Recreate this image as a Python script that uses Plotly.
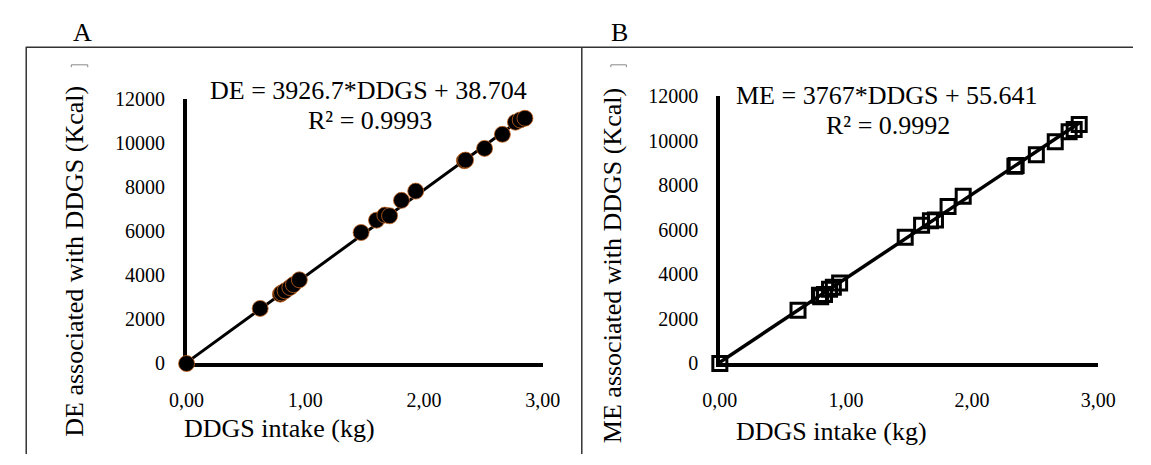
import plotly.graph_objects as go

# ---------------- data ----------------
ddgs_intake = [0.00, 0.62, 0.79, 0.80, 0.83, 0.87, 0.90, 0.95, 1.47, 1.60, 1.67,
               1.71, 1.81, 1.93, 2.34, 2.35, 2.51, 2.66, 2.77, 2.81, 2.85]
de_kcal = [0, 2500, 3150, 3200, 3300, 3450, 3580, 3800, 5950, 6510, 6740,
           6710, 7410, 7830, 9210, 9240, 9770, 10410, 10960, 11060, 11140]
me_kcal = [0, 2390, 3060, 3000, 3100, 3330, 3420, 3610, 5670, 6200, 6410,
           6440, 7050, 7510, 8850, 8880, 9370, 9950, 10400, 10500, 10730]

de_slope, de_intercept = 3926.7, 38.704
me_slope, me_intercept = 3767, 55.641
de_equation = "DE = 3926.7*DDGS + 38.704"
de_r2 = "R² = 0.9993"
me_equation = "ME = 3767*DDGS + 55.641"
me_r2 = "R² = 0.9992"

x_tickvals = [0, 1, 2, 3]
x_ticktext = ["0,00", "1,00", "2,00", "3,00"]
y_tickvals = [0, 2000, 4000, 6000, 8000, 10000, 12000]
y_ticktext = ["0", "2000", "4000", "6000", "8000", "10000", "12000"]

panel_labels = ["A", "B"]
x_title = "DDGS intake (kg)"
y_title_a = "DE associated with DDGS (Kcal)"
y_title_b = "ME associated with DDGS (Kcal)"

# ---------------- layout helpers ----------------
W, H = 1151, 465
FONT = "Liberation Serif"


def px(x):
    return x / W


def py(y):
    return 1 - y / H


fig = go.Figure()

x_line = [0, max(ddgs_intake)]

# Panel A
fig.add_trace(go.Scatter(
    x=x_line, y=[de_slope * v + de_intercept for v in x_line],
    mode="lines", line=dict(color="black", width=3),
    xaxis="x", yaxis="y", showlegend=False, hoverinfo="skip", cliponaxis=False))
fig.add_trace(go.Scatter(
    x=ddgs_intake, y=de_kcal, mode="markers",
    marker=dict(symbol="circle", size=16, color="black",
                line=dict(color="#c8641e", width=0.8)),
    xaxis="x", yaxis="y", showlegend=False, cliponaxis=False))

# Panel B
fig.add_trace(go.Scatter(
    x=x_line, y=[me_slope * v + me_intercept for v in x_line],
    mode="lines", line=dict(color="black", width=3.5),
    xaxis="x2", yaxis="y2", showlegend=False, hoverinfo="skip", cliponaxis=False))
fig.add_trace(go.Scatter(
    x=ddgs_intake, y=me_kcal, mode="markers",
    marker=dict(symbol="square-open", size=14, color="black",
                line=dict(color="black", width=3)),
    xaxis="x2", yaxis="y2", showlegend=False, cliponaxis=False))

tick_font = dict(family=FONT, size=20, color="black")

common_x = dict(range=[0, 3], tickvals=x_tickvals, ticktext=x_ticktext,
                showgrid=False, zeroline=False, showline=True, linecolor="black",
                linewidth=3.5, ticks="", tickfont=tick_font, layer="below traces",
                ticklabelstandoff=16, fixedrange=True)
common_y = dict(range=[0, 12000], tickvals=y_tickvals, ticktext=y_ticktext,
                showgrid=False, zeroline=False, showline=True, linecolor="black",
                linewidth=3.5, ticks="", tickfont=tick_font, layer="below traces",
                ticklabelstandoff=14, fixedrange=True)

fig.update_layout(
    width=W, height=H,
    margin=dict(l=0, r=0, t=0, b=0),
    paper_bgcolor="white", plot_bgcolor="white",
    font=dict(family=FONT, color="black"),
    xaxis=dict(domain=[px(174), px(541.7)], anchor="y", **common_x),
    yaxis=dict(domain=[py(370), py(92.7)], anchor="x", **common_y),
    xaxis2=dict(domain=[px(724.5), px(1115)], anchor="y2", **common_x),
    yaxis2=dict(domain=[py(370), py(89.3)], anchor="x2", **common_y),
)

big = dict(family=FONT, size=26, color="black")
ann = [
    dict(text=panel_labels[0], x=px(67), y=py(23)),
    dict(text=panel_labels[1], x=px(621), y=py(23)),
    dict(text=de_equation, x=px(362), y=py(83)),
    dict(text=de_r2, x=px(363), y=py(115)),
    dict(text=me_equation, x=px(897), y=py(89)),
    dict(text=me_r2, x=px(898), y=py(120)),
    dict(text=x_title, x=px(270), y=py(438)),
    dict(text=x_title, x=px(840), y=py(441)),
    dict(text=y_title_a, x=px(58), y=py(263), textangle=-90),
    dict(text=y_title_b, x=px(614), y=py(267), textangle=-90),
]
for a in ann:
    fig.add_annotation(xref="paper", yref="paper", xanchor="center", yanchor="middle",
                       showarrow=False, font=big, **a)

frame = dict(color="#333333", width=1.5)
shapes = [
    dict(type="line", x0=px(8), x1=1, y0=py(38), y1=py(38), line=frame),
    dict(type="line", x0=px(8.5), x1=px(8.5), y0=py(38), y1=0, line=frame),
    dict(type="line", x0=px(582), x1=px(582), y0=py(38), y1=0, line=frame),
    dict(type="path", path=f"M {px(55)} {py(59)} L {px(55)} {py(56.5)} L {px(72)} {py(56.5)} L {px(72)} {py(59)}",
         line=dict(color="#888888", width=1)),
    dict(type="path", path=f"M {px(612)} {py(59)} L {px(612)} {py(56.5)} L {px(628)} {py(56.5)} L {px(628)} {py(59)}",
         line=dict(color="#888888", width=1)),
]
for s in shapes:
    fig.add_shape(xref="paper", yref="paper", **s)

fig.write_html("out.html",
               config={"displayModeBar": False, "staticPlot": True},
               post_script="document.body.style.margin='0px';document.body.style.overflow='hidden';")
